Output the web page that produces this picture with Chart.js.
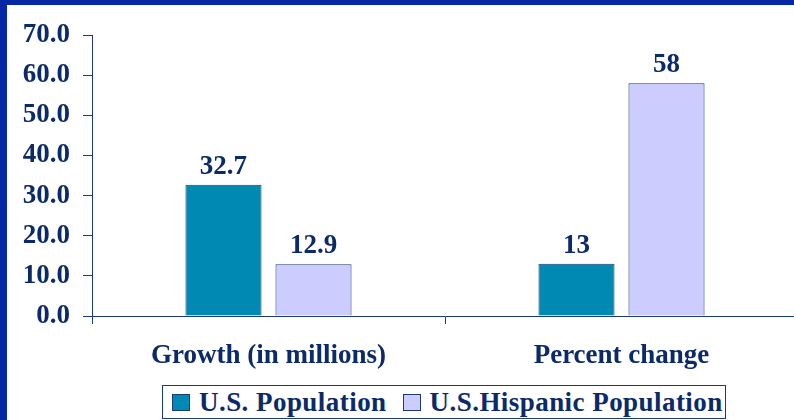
<!DOCTYPE html>
<html>
<head>
<meta charset="utf-8">
<script src="https://cdn.jsdelivr.net/npm/chart.js@4.4.1/dist/chart.umd.min.js"></script>
<style>
  html, body { margin: 0; padding: 0; }
  body { width: 794px; height: 420px; overflow: hidden; background: #0628a6; position: relative; }
  #paper { position: absolute; left: 7px; top: 5px; width: 800px; height: 430px; background: #fff; }
  #myChart { position: absolute; left: 0; top: 0; }
  #legend {
    position: absolute; left: 162px; top: 385px; height: 32px;
    border: 1px solid #1b3a78; background: #fff;
    display: flex; align-items: center; padding: 0 2px 0 9px;
    font: bold 27px "Liberation Serif", "Times New Roman", serif; color: #0b2a6a;
    letter-spacing: 0.45px;
  }
  #legend .item { display: flex; align-items: center; margin-right: 16px; white-space: nowrap; }
  #legend .item:last-child { margin-right: 0; }
  #legend .swatch { width: 16px; height: 15px; border: 1px solid #1b3a78; margin-right: 9px; }
</style>
</head>
<body>
<div id="paper"></div>
<canvas id="myChart" width="800" height="384"></canvas>
<div id="legend"></div>
<script>
// chart data
const categories = ['Growth (in millions)', 'Percent change'];
const seriesNames = ['U.S. Population', 'U.S.Hispanic Population'];
const usPopulation = [32.7, 13];
const hispanicPopulation = [12.9, 58];
const seriesColors = ['#0089b3', '#ccccff'];

const navy = '#0b2a6a';
const lineColor = '#1b3a78';
const font = { family: '"Liberation Serif", "Times New Roman", serif', size: 27, weight: 'bold' };

// value labels above each bar
const valueLabels = {
  id: 'valueLabels',
  afterDatasetsDraw(chart) {
    const ctx = chart.ctx;
    ctx.save();
    ctx.font = 'bold 27px "Liberation Serif", "Times New Roman", serif';
    ctx.fillStyle = navy;
    ctx.textAlign = 'center';
    ctx.textBaseline = 'alphabetic';
    chart.data.datasets.forEach((ds, i) => {
      chart.getDatasetMeta(i).data.forEach((bar, j) => {
        ctx.fillText(String(ds.data[j]), bar.x, bar.y - 11);
      });
    });
    ctx.restore();
  }
};

const ctx = document.getElementById('myChart').getContext('2d');
const myChart = new Chart(ctx, {
  type: 'bar',
  data: {
    labels: categories,
    datasets: [
      { label: seriesNames[0], data: usPopulation, backgroundColor: seriesColors[0], borderColor: lineColor, borderWidth: 1 },
      { label: seriesNames[1], data: hispanicPopulation, backgroundColor: seriesColors[1], borderColor: lineColor, borderWidth: 1 }
    ]
  },
  options: {
    responsive: false,
    devicePixelRatio: 1,
    animation: false,
    layout: { padding: { top: 35, right: 2, left: 0, bottom: 0 } },
    datasets: { bar: { categoryPercentage: 0.51, barPercentage: 0.845 } },
    plugins: { legend: { display: false }, tooltip: { enabled: false } },
    scales: {
      x: {
        offset: true,
        grid: { drawOnChartArea: false, offset: true, tickLength: 8, color: lineColor },
        border: { color: lineColor, width: 1 },
        ticks: { font: font, color: navy, padding: 16 },
        afterFit: s => { s.height = 68; }
      },
      y: {
        min: 0, max: 70,
        grid: { drawOnChartArea: false, tickLength: 9, color: lineColor },
        border: { color: lineColor, width: 1 },
        ticks: { stepSize: 10, font: font, color: navy, padding: 13, callback: v => v.toFixed(1) },
        afterFit: s => { s.width = 92; }
      }
    }
  },
  plugins: [valueLabels]
});

// legend built from the series
const legend = document.getElementById('legend');
seriesNames.forEach((name, i) => {
  const item = document.createElement('div');
  item.className = 'item';
  const sw = document.createElement('span');
  sw.className = 'swatch';
  sw.style.background = seriesColors[i];
  const txt = document.createElement('span');
  txt.textContent = name;
  item.appendChild(sw);
  item.appendChild(txt);
  legend.appendChild(item);
});
</script>
</body>
</html>
